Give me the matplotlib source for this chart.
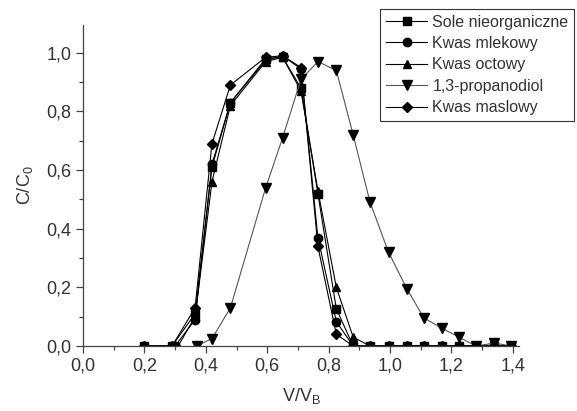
import numpy as np
import matplotlib.pyplot as plt
from matplotlib.ticker import MultipleLocator, FuncFormatter

plt.rcParams['font.family'] = ['Liberation Sans', 'DejaVu Sans']

# wspolne punkty V/VB
x_tail = [0.88, 0.935, 0.995, 1.055, 1.11, 1.17, 1.225, 1.28, 1.34, 1.395]

x_sole = [0.2, 0.29, 0.365, 0.42, 0.48, 0.595, 0.65, 0.71, 0.765, 0.825] + x_tail
y_sole = [0.0, 0.0, 0.11, 0.61, 0.83, 0.98, 0.985, 0.88, 0.52, 0.127] + [0.0] * 10

x_mlek = [0.2, 0.30, 0.365, 0.42, 0.48, 0.595, 0.65, 0.71, 0.765, 0.825] + x_tail
y_mlek = [0.0, 0.0, 0.09, 0.62, 0.83, 0.975, 0.99, 0.945, 0.37, 0.083] + [0.0] * 10

x_oct = [0.2, 0.31, 0.365, 0.42, 0.48, 0.595, 0.65, 0.71, 0.765, 0.825] + x_tail
y_oct = [0.0, 0.0, 0.10, 0.56, 0.82, 0.97, 0.985, 0.87, 0.53, 0.20, 0.03] + [0.0] * 9

x_prop = [0.37, 0.42, 0.48, 0.595, 0.65, 0.71, 0.765, 0.825, 0.88, 0.935,
          0.995, 1.055, 1.11, 1.17, 1.225, 1.28, 1.34, 1.395]
y_prop = [0.0, 0.025, 0.13, 0.54, 0.71, 0.91, 0.97, 0.94, 0.72, 0.49,
          0.32, 0.195, 0.096, 0.06, 0.03, 0.0, 0.01, 0.0]

x_masl = [0.2, 0.29, 0.365, 0.42, 0.48, 0.595, 0.65, 0.71, 0.765, 0.825] + x_tail
y_masl = [0.0, 0.0, 0.13, 0.69, 0.89, 0.985, 0.99, 0.95, 0.34, 0.04] + [0.0] * 10

labels = ['Sole nieorganiczne', 'Kwas mlekowy', 'Kwas octowy', '1,3-propanodiol', 'Kwas maslowy']

fig = plt.figure(figsize=(5.77, 4.11), dpi=100)
ax = fig.add_axes([83 / 577, 1 - 346 / 411, 436 / 577, 321 / 411])

kw = dict(color='black', lw=0.8, ms=6, mec='black', mfc='black')
ax.plot(x_sole, y_sole, marker='s', label=labels[0], **kw)
ax.plot(x_mlek, y_mlek, marker='o', label=labels[1], **kw)
ax.plot(x_oct, y_oct, marker='^', label=labels[2], **kw)
ax.plot(x_prop, y_prop, marker='v', label=labels[3], color='#555555', lw=0.8, ms=7,
        mec='black', mfc='black')
ax.plot(x_masl, y_masl, marker='D', label=labels[4], color='black', lw=0.8, ms=5.2,
        mec='black', mfc='black')

ax.set_xlim(0, 1.42)
ax.set_ylim(0, 1.095)
ax.xaxis.set_major_locator(MultipleLocator(0.2))
ax.xaxis.set_minor_locator(MultipleLocator(0.1))
ax.yaxis.set_major_locator(MultipleLocator(0.2))
ax.yaxis.set_minor_locator(MultipleLocator(0.1))
fmt = FuncFormatter(lambda v, p: ('%.1f' % v).replace('.', ','))
ax.xaxis.set_major_formatter(fmt)
ax.yaxis.set_major_formatter(fmt)

for s in ['top', 'right']:
    ax.spines[s].set_visible(False)
for s in ['left', 'bottom']:
    ax.spines[s].set_color('#444444')
    ax.spines[s].set_linewidth(0.9)
ax.tick_params(which='major', direction='out', length=5, width=0.9, color='#444444',
               labelsize=13, labelcolor='#333333')
ax.tick_params(which='minor', direction='out', length=3, width=0.9, color='#444444')

ax.set_xlabel('V/V$_\\mathregular{B}$', fontsize=13, color='#333333', labelpad=8)
ax.set_ylabel('C/C$_\\mathregular{0}$', fontsize=13, color='#333333', labelpad=8)

leg = fig.legend(loc='upper right', bbox_to_anchor=(574 / 577, 1 - 9 / 411),
                 bbox_transform=fig.transFigure, fontsize=11.5, frameon=True,
                 fancybox=False, edgecolor='black', handlelength=2.6,
                 labelspacing=0.4, handletextpad=0.3, borderpad=0.35,
                 borderaxespad=0)
leg.get_frame().set_linewidth(0.8)
for t in leg.get_texts():
    t.set_color('#333333')

fig.savefig('out.png', dpi=100)
